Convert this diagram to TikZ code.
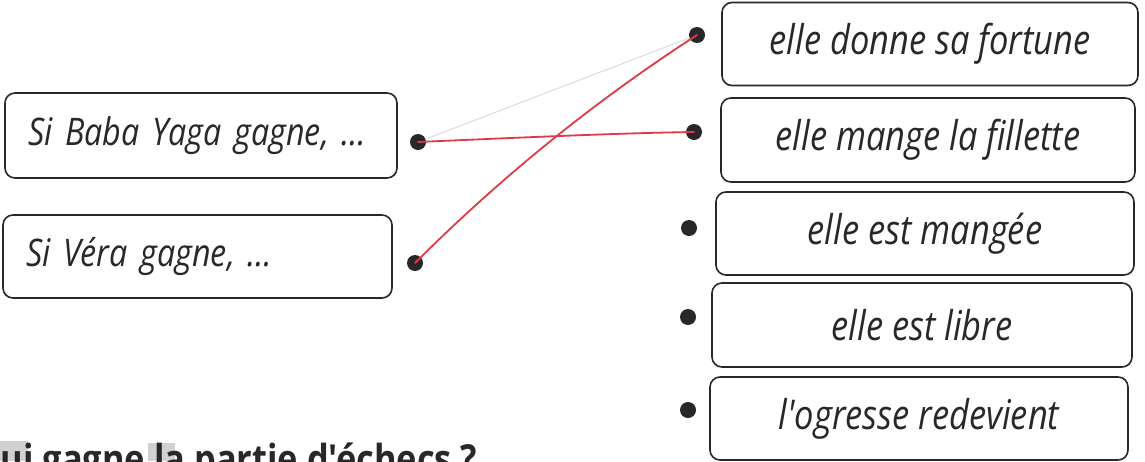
\documentclass[tikz,border=0pt]{standalone}
\usepackage{fontspec}
\newfontfamily\cardfont{Open Sans}[FakeStretch=0.84]
\newfontfamily\leftfont{Open Sans}[FakeStretch=0.85]
\newfontfamily\qfont{Open Sans}[FakeStretch=0.86]
\definecolor{pen}{RGB}{222,58,72}
\definecolor{ink}{RGB}{40,40,42}
\tikzset{
  card/.style={draw=ink, line width=1.6pt, rounded corners=10pt, fill=white,
    font=\cardfont\itshape\fontsize{41}{46}\selectfont, text=ink, inner sep=0pt},
  lcard/.style={card, text width=#1, align=left, inner xsep=23pt,
    font=\leftfont\itshape\fontsize{38}{44}\selectfont},
  dotmark/.style={circle, fill=ink, minimum size=16pt, inner sep=0pt},
  link/.style={draw=pen, line width=1.8pt, line cap=round},
  erased/.style={draw=black!14, line width=1pt},
  hilite/.style={fill=black!18, draw=none}
}
\begin{document}
\begin{tikzpicture}[x=1pt,y=-1pt]
\clip (0,0) rectangle (1145,461);
\fill[white] (0,0) rectangle (1145,461);
% left cards
\node[lcard=346pt, minimum height=85pt] (L1) at (201,135.5) {Si Baba Yaga gagne, …};
\node[lcard=343pt, minimum height=83pt] (L2) at (197.5,256.5) {Si Véra gagne, …};
% right cards
\node[card, minimum width=416pt, minimum height=83pt] (R1) at (930,44) {elle donne sa fortune};
\node[card, minimum width=414pt, minimum height=84pt] (R2) at (928,140) {elle mange la fillette};
\node[card, minimum width=418pt, minimum height=83pt] (R3) at (925,233.5) {elle est mangée};
\node[card, minimum width=420pt, minimum height=84pt] (R4) at (922,325) {elle est libre};
\node[card, minimum width=418pt, minimum height=83pt] (R5) at (919,418.5) {l'ogresse redevient};
% dots
\node[dotmark] (a1) at (418,142) {};
\node[dotmark] (a2) at (415,263) {};
\node[dotmark] (b1) at (697,35) {};
\node[dotmark] (b2) at (694,132) {};
\node[dotmark] (b3) at (689,228) {};
\node[dotmark] (b4) at (688,317) {};
\node[dotmark] (b5) at (688,410) {};
% faint erased pencil stroke
\draw[erased] (a1) -- (b1);
% red links
\draw[link] (a1.center) .. controls (510,138) and (620,133) .. (b2.center);
\draw[link] (a2.center) .. controls (501,177) and (595,101) .. (b1.center);
% bottom question, cut off
\fill[hilite] (0,441) rectangle (28,461);
\fill[hilite] (148,443) rectangle (175,461);
\node[anchor=base west, inner sep=0pt, font=\qfont\bfseries\fontsize{40}{44}\selectfont, text=ink] (q) at (-27,473) {Qui gagne la partie d'échecs ?};
\end{tikzpicture}
\end{document}
